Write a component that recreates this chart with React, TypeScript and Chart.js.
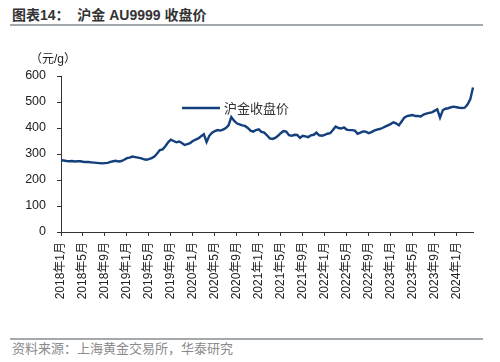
import React, { useEffect, useRef } from "react";
import { Chart, registerables } from "chart.js";
Chart.register(...registerables);

// Semi-monthly closing prices (元/g), first value of each pair = start of month, second = mid-month
const startYear = 2018;
const endYear = 2024;
const endMonth = 4; // last month included (only its first point)

const prices2018 = [276, 275, 273, 272, 273, 271, 272, 272, 270, 269, 269, 268, 267, 266, 265, 264, 265, 266, 270, 272, 274, 271, 273, 278];
const prices2019 = [284, 286, 290, 288, 286, 284, 280, 278, 280, 284, 290, 302, 315, 318, 330, 345, 355, 350, 345, 348, 342, 335, 338, 342];
const prices2020 = [350, 355, 360, 368, 376, 346, 370, 382, 388, 392, 390, 394, 400, 410, 442, 428, 418, 414, 410, 408, 400, 390, 386, 392];
const prices2021 = [395, 385, 382, 372, 360, 358, 362, 370, 380, 388, 386, 372, 370, 374, 373, 362, 370, 368, 365, 372, 374, 382, 372, 370];
const prices2022 = [374, 378, 380, 392, 406, 400, 398, 402, 394, 392, 392, 390, 378, 382, 387, 386, 380, 384, 390, 394, 396, 400, 405, 410];
const prices2023 = [415, 422, 418, 410, 425, 440, 446, 448, 450, 446, 446, 444, 452, 455, 458, 460, 466, 472, 440, 468, 474, 476, 480, 482];
const prices2024 = [480, 478, 477, 478, 490, 510, 556];

const seriesName = "沪金收盘价";
const yTicks = [0, 100, 200, 300, 400, 500, 600];
const titleText = "图表14：  沪金 AU9999 收盘价";
const unitText = "（元/g）";
const sourceText = "资料来源：上海黄金交易所，华泰研究";

const values = [
  ...prices2018,
  ...prices2019,
  ...prices2020,
  ...prices2021,
  ...prices2022,
  ...prices2023,
  ...prices2024,
];

const categories: string[] = [];
for (let y = startYear; y <= endYear; y++) {
  for (let m = 1; m <= 12; m++) {
    if (y === endYear && m > endMonth) break;
    categories.push(`${y}年${m}月`);
    if (!(y === endYear && m === endMonth)) categories.push(`${y}年${m}月下`);
  }
}

const LINE_COLOR = "#133f7c";
const AXIS_COLOR = "#333333";
const FONT = "'Liberation Sans', 'Noto Sans CJK SC', sans-serif";

const overlayPlugin = {
  id: "overlay",
  afterDraw(chart: any) {
    const { ctx, chartArea } = chart;
    ctx.save();
    // unit label
    ctx.fillStyle = "#222";
    ctx.font = `12px ${FONT}`;
    ctx.textAlign = "center";
    ctx.textBaseline = "middle";
    ctx.fillText(unitText, chartArea.left - 8, chartArea.top - 16);
    // legend
    const lx = chartArea.left + 121;
    const ly = chartArea.top + 32;
    ctx.strokeStyle = LINE_COLOR;
    ctx.lineWidth = 2.5;
    ctx.beginPath();
    ctx.moveTo(lx, ly);
    ctx.lineTo(lx + 38, ly);
    ctx.stroke();
    ctx.fillStyle = "#333";
    ctx.font = `13px 'Noto Sans CJK SC', sans-serif`;
    ctx.textAlign = "left";
    ctx.fillText(seriesName, lx + 42, ly);
    ctx.restore();
  },
};

function GoldChart() {
  const ref = useRef<HTMLCanvasElement | null>(null);
  useEffect(() => {
    if (!ref.current) return;
    const chart = new Chart(ref.current, {
      type: "line",
      data: {
        labels: categories,
        datasets: [
          {
            label: seriesName,
            data: values,
            borderColor: LINE_COLOR,
            backgroundColor: LINE_COLOR,
            borderWidth: 2.4,
            pointRadius: 0,
            tension: 0,
            fill: false,
          },
        ],
      },
      options: {
        animation: false,
        responsive: false,
        maintainAspectRatio: false,
        layout: { padding: { top: 46, right: 27, left: 0, bottom: 0 } },
        plugins: {
          legend: { display: false },
          tooltip: { enabled: false },
        },
        scales: {
          x: {
            type: "category",
            offset: false,
            afterFit: (s: any) => {
              s.height = 103;
            },
            border: { display: true, color: AXIS_COLOR, width: 1 },
            grid: {
              drawOnChartArea: false,
              drawTicks: true,
              tickLength: 4,
              color: (c: any) => (c.index % 8 === 0 ? AXIS_COLOR : "rgba(0,0,0,0)"),
            },
            ticks: {
              autoSkip: false,
              maxRotation: 90,
              minRotation: 90,
              padding: 6,
              color: "#222",
              font: { size: 12, family: FONT },
              callback: (_v: any, i: number) => (i % 8 === 0 ? categories[i] : ""),
            },
          },
          y: {
            min: yTicks[0],
            max: yTicks[yTicks.length - 1],
            afterFit: (s: any) => {
              s.width = 61;
            },
            border: { display: true, color: AXIS_COLOR, width: 1 },
            grid: { drawOnChartArea: false, drawTicks: true, tickLength: 4, color: AXIS_COLOR },
            afterBuildTicks: (s: any) => {
              s.ticks = yTicks.map((v) => ({ value: v }));
            },
            ticks: {
              padding: 11,
              color: "#222",
              font: { size: 12.5, family: FONT },
            },
          },
        },
      },
      plugins: [overlayPlugin],
    });
    return () => chart.destroy();
  }, []);
  return <canvas ref={ref} width={500} height={305} style={{ position: "absolute", left: 0, top: 30, width: 500, height: 305 }} />;
}

export default function App() {
  return (
    <div style={{ position: "fixed", left: 0, top: 0, width: 500, height: 362, background: "#fff", overflow: "hidden" }}>
      <div
        style={{
          position: "absolute",
          left: 12,
          top: 5,
          fontFamily: "'Liberation Sans', 'Noto Sans CJK SC', sans-serif",
          fontWeight: "bold",
          fontSize: 14,
          color: "#333",
          whiteSpace: "pre",
          lineHeight: "20px",
        }}
      >
        {titleText}
      </div>
      <div style={{ position: "absolute", left: 10, top: 24, width: 473, height: 2, background: "#a4a9ae" }} />
      <GoldChart />
      <div style={{ position: "absolute", left: 10, top: 338, width: 473, height: 1.5, background: "#a4a9ae" }} />
      <div
        style={{
          position: "absolute",
          left: 12,
          top: 339,
          fontFamily: "'Noto Sans CJK SC', sans-serif",
          fontSize: 13,
          color: "#8a8a8a",
          lineHeight: "18px",
          whiteSpace: "pre",
        }}
      >
        {sourceText}
      </div>
    </div>
  );
}
